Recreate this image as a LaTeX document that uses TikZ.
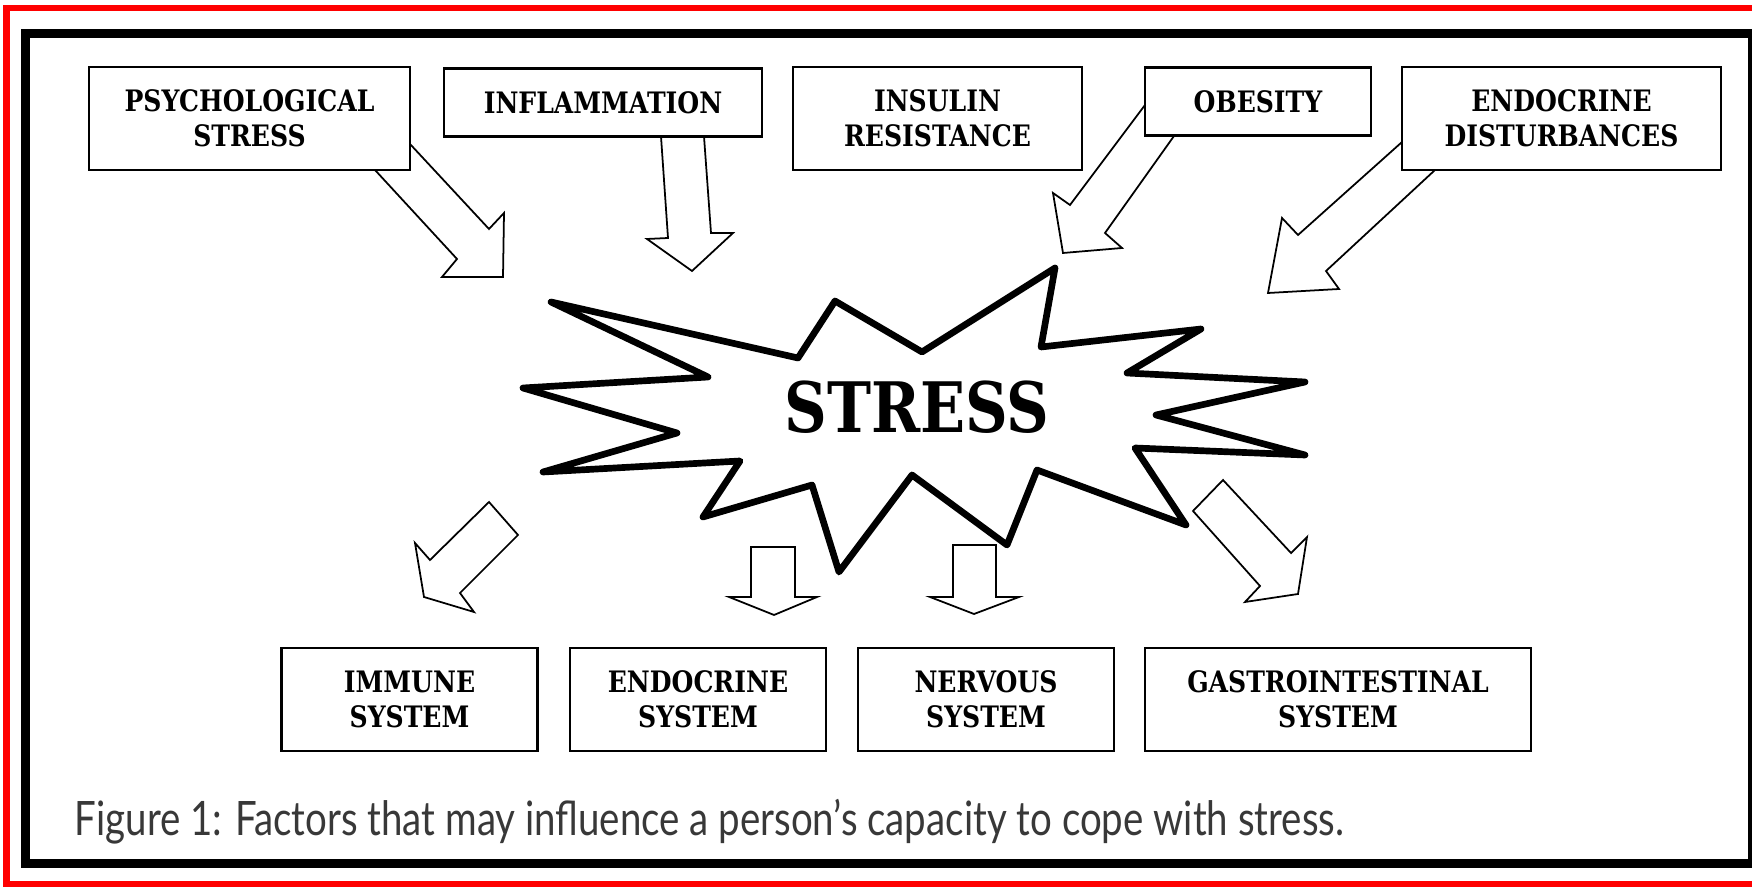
\documentclass[tikz,border=0pt]{standalone}
\usepackage{fontspec}
\setmainfont{DejaVu Serif}[FakeStretch=0.85]
\newfontfamily\capfont{Lato}[FakeStretch=0.81]

\begin{document}
\begin{tikzpicture}[x=1cm, y=-1cm,
  box/.style={draw, line width=0.6pt, inner sep=0pt, align=center,
    font=\bfseries\fontsize{8.4}{9.96}\selectfont, minimum height=1.03cm},
  flatbox/.style={box, minimum height=0.68cm},
  blockarrow/.style={draw, line width=0.5pt, line join=miter},
  burst/.style={draw, line width=1.9pt, line join=round}]
\useasboundingbox (0,0) rectangle (17.52,8.87);
% frames
\draw [red, line width=1.85pt] (0.065,0.08) rectangle (17.62,8.84);
\draw [line width=2.7pt] (0.255,0.335) rectangle (17.53,8.635);

% top arrows
\draw [blockarrow] (3.75,1.70) -- (4.57,2.59) -- (4.42,2.77) -- (5.03,2.77) -- (5.04,2.13) -- (4.89,2.29) -- (4.10,1.44);
\draw [blockarrow] (6.61,1.365) -- (6.68,2.38) -- (6.47,2.39) -- (6.92,2.71) -- (7.33,2.33) -- (7.11,2.33) -- (7.04,1.365);
\draw [blockarrow] (11.45,1.05) -- (10.70,2.05) -- (10.53,1.93) -- (10.63,2.53) -- (11.22,2.48) -- (11.05,2.33) -- (11.74,1.36);
\draw [blockarrow] (14.02,1.42) -- (12.98,2.35) -- (12.82,2.18) -- (12.68,2.93) -- (13.39,2.89) -- (13.26,2.71) -- (14.35,1.70);

% factors
\node [box, minimum width=3.21cm] (psych) at (2.495,1.185) {PSYCHOLOGICAL\\STRESS};
\node [flatbox, minimum width=3.18cm] (inflam) at (6.03,1.025) {INFLAMMATION};
\node [box, minimum width=2.89cm] (insulin) at (9.375,1.185) {INSULIN\\RESISTANCE};
\node [flatbox, minimum width=2.26cm] (obesity) at (12.58,1.015) {OBESITY};
\node [box, minimum width=3.19cm] (endodist) at (15.615,1.185) {ENDOCRINE\\DISTURBANCES};

% the burst
\draw [burst] (5.51,3.02) -- (7.98,3.58) -- (8.35,3.01) -- (9.22,3.52) -- (10.55,2.68) -- (10.41,3.47)
  -- (12.01,3.29) -- (11.27,3.73) -- (13.05,3.82) -- (11.56,4.15) -- (13.05,4.55) -- (11.35,4.48)
  -- (11.86,5.25) -- (10.37,4.70) -- (10.07,5.45) -- (9.12,4.75) -- (8.39,5.72) -- (8.12,4.85)
  -- (7.03,5.17) -- (7.40,4.61) -- (5.43,4.72) -- (6.77,4.33) -- (5.23,3.88) -- (7.08,3.77) -- cycle;
\node [font=\bfseries\fontsize{19.8}{22}\selectfont, inner sep=0pt] (stress) at (9.17,4.07) {STRESS};

% bottom arrows
\draw [blockarrow] (4.89,5.02) -- (4.30,5.60) -- (4.15,5.43) -- (4.24,5.97) -- (4.74,6.12) -- (4.60,5.93) -- (5.18,5.35) -- cycle;
\draw [blockarrow] (7.51,5.47) -- (7.51,5.97) -- (7.29,5.97) -- (7.74,6.15) -- (8.17,5.97) -- (7.95,5.97) -- (7.95,5.47) -- cycle;
\draw [blockarrow] (9.53,5.45) -- (9.53,5.97) -- (9.30,5.97) -- (9.74,6.14) -- (10.19,5.97) -- (9.96,5.97) -- (9.96,5.45) -- cycle;
\draw [blockarrow] (12.23,4.80) -- (11.93,5.11) -- (12.60,5.86) -- (12.45,6.02) -- (12.98,5.94) -- (13.07,5.37) -- (12.91,5.53) -- cycle;

% systems
\node [box, minimum width=2.56cm] (immune) at (4.095,6.995) {IMMUNE\\SYSTEM};
\node [box, minimum width=2.56cm] (endosys) at (6.98,6.995) {ENDOCRINE\\SYSTEM};
\node [box, minimum width=2.56cm] (nervous) at (9.86,6.995) {NERVOUS\\SYSTEM};
\node [box, minimum width=3.855cm] (gastro) at (13.38,6.995) {GASTROINTESTINAL\\SYSTEM};

\node [anchor=base west, inner sep=0pt, text=black!78, font=\capfont\fontsize{13.5}{16}\selectfont] (caption) at (0.74,8.35)
  {Figure 1: Factors that may influence a person’s capacity to cope with stress.};
\end{tikzpicture}
\end{document}
